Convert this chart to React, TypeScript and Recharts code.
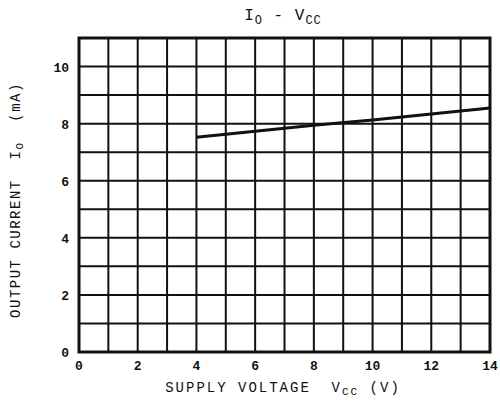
import React from 'react';
import { LineChart, Line, XAxis, YAxis, CartesianGrid, ReferenceArea } from 'recharts';

const vcc = [4, 6, 8, 10, 12, 14];
const outputCurrent = [7.52, 7.73, 7.94, 8.13, 8.34, 8.55];
const xTicks = [0, 1, 2, 3, 4, 5, 6, 7, 8, 9, 10, 11, 12, 13, 14];
const yTicks = [0, 1, 2, 3, 4, 5, 6, 7, 8, 9, 10, 11];

const data = vcc.map((v, i) => ({ vcc: v, io: outputCurrent[i] }));

const FONT = '"Liberation Mono", "DejaVu Sans Mono", monospace';
const INK = '#111';
const NB = '\u00a0';

const XTick = (props: any) => {
  const { x, y, payload } = props;
  if (payload.value % 2 !== 0) return null;
  return (
    <text x={x} y={y + 10} textAnchor="middle" fontFamily={FONT} fontSize={13} fontWeight="bold" fill={INK}>
      {payload.value}
    </text>
  );
};

const YTick = (props: any) => {
  const { x, y, payload } = props;
  if (payload.value % 2 !== 0 || payload.value > 10) return null;
  return (
    <text x={x - 2} y={y + 5} textAnchor="end" fontFamily={FONT} fontSize={13} fontWeight="bold" fill={INK}>
      {payload.value}
    </text>
  );
};

export default function App() {
  return (
    <div style={{ position: 'absolute', left: 0, top: 0, width: 500, height: 406, background: '#fff' }}>
      <LineChart width={500} height={406} data={data} margin={{ top: 38, right: 10, bottom: 24, left: 9 }}>
        <CartesianGrid stroke={INK} strokeWidth={2} />
        <XAxis
          dataKey="vcc"
          type="number"
          domain={[0, 14]}
          ticks={xTicks}
          interval={0}
          height={30}
          axisLine={false}
          tickLine={false}
          tick={<XTick />}
        />
        <YAxis
          type="number"
          domain={[0, 11]}
          ticks={yTicks}
          interval={0}
          width={70}
          axisLine={false}
          tickLine={false}
          tick={<YTick />}
        />
        <ReferenceArea x1={0} x2={14} y1={0} y2={11} fill="none" stroke={INK} strokeWidth={3} />
        <Line
          dataKey="io"
          stroke={INK}
          strokeWidth={3}
          dot={false}
          isAnimationActive={false}
        />
        <text x={283} y={20} textAnchor="middle" fontFamily={FONT} fontSize={16} letterSpacing={1} fill={INK}>
          I<tspan fontSize={12} dy={4}>O</tspan>
          <tspan dy={-4}>{`${NB}-${NB}V`}</tspan>
          <tspan fontSize={12} dy={4}>CC</tspan>
        </text>
        <text x={283} y={392} textAnchor="middle" fontFamily={FONT} fontSize={14} letterSpacing={2} fill={INK}>
          {`SUPPLY VOLTAGE${NB}${NB}V`}
          <tspan fontSize={11} dy={3}>CC</tspan>
          <tspan dy={-3}>{`${NB}(V)`}</tspan>
        </text>
        <text
          x={20}
          y={200}
          textAnchor="middle"
          fontFamily={FONT}
          fontSize={14}
          letterSpacing={1.5}
          fill={INK}
          transform="rotate(-90 20 200)"
        >
          {`OUTPUT CURRENT${NB}${NB}I`}
          <tspan fontSize={11} dy={3}>O</tspan>
          <tspan dy={-3}>{`${NB}${NB}(mA)`}</tspan>
        </text>
      </LineChart>
    </div>
  );
}
